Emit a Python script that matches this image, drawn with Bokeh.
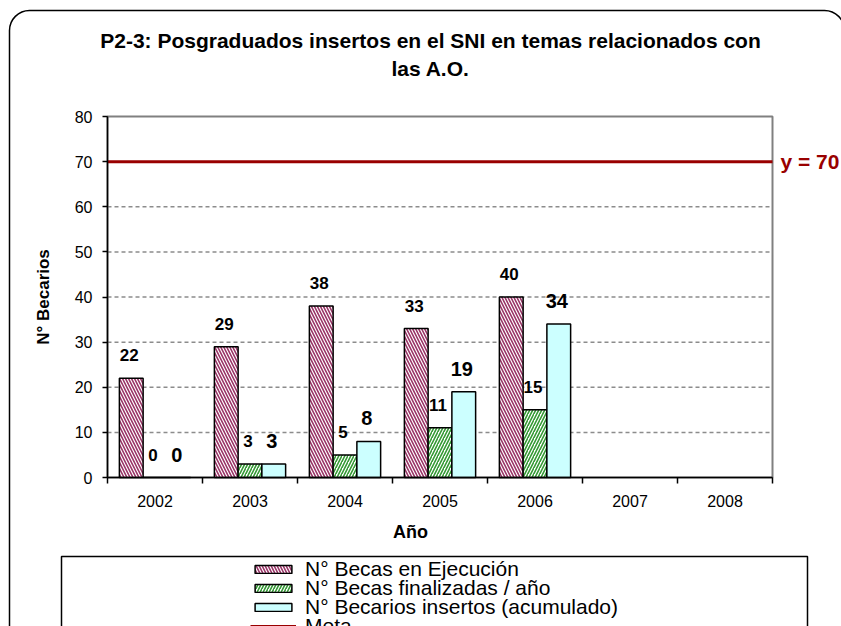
from bokeh.plotting import figure
from bokeh.models import (Range1d, FixedTicker, BoxAnnotation, Legend, LegendItem,
                          ColumnDataSource, Label)
from bokeh.core.properties import value
from bokeh.embed import file_html
from bokeh.resources import INLINE

# ---------------- data ----------------
years = ["2002", "2003", "2004", "2005", "2006", "2007", "2008"]
becas_ejecucion = [22, 29, 38, 33, 40, None, None]
becas_finalizadas = [0, 3, 5, 11, 15, None, None]
becarios_insertos = [0, 3, 8, 19, 34, None, None]
meta = 70
y_ticks = [0, 10, 20, 30, 40, 50, 60, 70, 80]
grid_ticks = [10, 20, 30, 40, 50, 60]
series_names = ["N° Becas en Ejecución", "N° Becas finalizadas / año",
                "N° Becarios insertos (acumulado)", "Meta"]
title_lines = ["P2-3: Posgraduados insertos en el SNI en temas relacionados con",
               "las A.O."]
x_title = "Año"
y_title = "N° Becarios"
meta_label = "y = 70"

# ---------------- layout (pixels) ----------------
FONT = "Liberation Sans"
W, H = 841, 626
n = len(years)
y_max = y_ticks[-1]
X0, X1 = 107, 772          # plot-area left / right
Y0, Y1 = 477, 116          # plot-area bottom / top
SX = (X1 - X0) / n
SY = (Y0 - Y1) / y_max
def xd(px): return (px - X0) / SX
def yd(py): return (Y0 - py) / SY

PINK, GREEN, CYAN, RED = "#993366", "#339933", "#CCFFFF", "#990000"
bar_styles = [
    dict(fill_color="white", hatch_pattern="\\", hatch_color=PINK, hatch_scale=6, hatch_weight=1.6),
    dict(fill_color="white", hatch_pattern="/", hatch_color=GREEN, hatch_scale=6, hatch_weight=1.6),
    dict(fill_color=CYAN),
]

p = figure(width=W, height=H, output_backend="svg", toolbar_location=None,
           x_range=Range1d(xd(0), xd(W)), y_range=Range1d(yd(H), yd(0)),
           min_border=0)
p.background_fill_color = "white"
p.border_fill_color = "white"
p.outline_line_color = None
p.xgrid.visible = False
p.ygrid.visible = False

# plot-area border and dashed grid
p.add_layout(BoxAnnotation(left=0, right=n, bottom=0, top=y_max, fill_alpha=0,
                           line_color="#808080", line_alpha=1, line_width=2,
                           level="underlay"))
grid_src = ColumnDataSource(dict(y=grid_ticks))
p.segment(x0=0, x1=n, y0="y", y1="y", source=grid_src, line_color="#8c8c8c",
          line_dash="4 3", line_width=1.5, level="underlay")

# x axis: labels at category centres, ticks between categories
xa = p.xaxis[0]
xa.fixed_location = 0
xa.bounds = (0, n)
xa.ticker = FixedTicker(ticks=[i + 0.5 for i in range(n)], minor_ticks=list(range(n + 1)))
xa.major_label_overrides = {i + 0.5: y for i, y in enumerate(years)}
xa.major_tick_line_color = None
xa.major_tick_out = 6
xa.minor_tick_in = 0
xa.minor_tick_out = 6
xa.minor_tick_line_color = "black"
xa.minor_tick_line_width = 1.5
xa.axis_line_color = "black"
xa.axis_line_width = 1.5
xa.major_label_standoff = 11
xa.major_label_text_font = FONT
xa.major_label_text_font_size = "16px"
xa.major_label_text_color = "black"

ya = p.yaxis[0]
ya.fixed_location = 0
ya.bounds = (0, y_max)
ya.ticker = FixedTicker(ticks=y_ticks, minor_ticks=[])
ya.major_tick_in = 0
ya.major_tick_out = 5
ya.major_tick_line_color = "black"
ya.major_tick_line_width = 1.5
ya.axis_line_color = "black"
ya.axis_line_width = 1.5
ya.major_label_standoff = 10
ya.major_label_text_font = FONT
ya.major_label_text_font_size = "16px"
ya.major_label_text_color = "black"
ya.axis_label = y_title
ya.axis_label_text_font = FONT
ya.axis_label_text_font_style = "bold"
ya.axis_label_text_font_size = "17px"
ya.axis_label_text_color = "black"
ya.axis_label_standoff = 19

# bars + value labels
label_sizes = ["17px", "17px", "20px"]
bar_renderers = []
for k, (vals, off) in enumerate([(becas_ejecucion, -0.25), (becas_finalizadas, 0.0),
                                 (becarios_insertos, 0.25)]):
    idx = [i for i, v in enumerate(vals) if v is not None]
    src = ColumnDataSource(dict(x=[i + 0.5 + off for i in idx],
                                top=[vals[i] for i in idx],
                                label=[str(vals[i]) for i in idx]))
    r = p.vbar(x="x", top="top", width=0.25, source=src, line_color="black",
               line_width=1.5, **bar_styles[k])
    bar_renderers.append(r)
    p.text(x="x", y="top", text="label", source=src, text_align="center",
           text_baseline="alphabetic", x_offset=-2, y_offset=-23,
           text_font=value(FONT), text_font_style="bold",
           text_font_size=label_sizes[k], text_color="black")

meta_src = ColumnDataSource(dict(y=[meta]))
meta_r = p.segment(x0=0, x1=n, y0="y", y1="y", source=meta_src,
                   line_color=RED, line_width=3)

# texts
def lab(x, y, text, size, color="black", align="center", **kw):
    p.add_layout(Label(x=x, y=y, text=text, text_align=align, text_baseline="middle",
                       text_font=FONT, text_font_style="bold", text_font_size=size,
                       text_color=color, **kw))
lab(xd(430), yd(40), title_lines[0], "21px")
lab(xd(430), yd(68), title_lines[1], "21px")
lab(xd(410), yd(531), x_title, "18px")
lab(n, meta, meta_label, "21px", color=RED, align="left", x_offset=8)

# chart border and legend box
p.add_layout(BoxAnnotation(left=xd(9), right=xd(W + 3), top=yd(10), bottom=yd(H + 60),
                           fill_alpha=0, line_color="black", line_alpha=1,
                           line_width=1.5, border_radius=20))
p.add_layout(BoxAnnotation(left=xd(61), right=xd(807), top=yd(556), bottom=yd(H + 60),
                           fill_alpha=0, line_color="black", line_alpha=1,
                           line_width=1.5))

# legend: two interleaved columns of rows give the tight row pitch
renders = bar_renderers + [meta_r]
common = dict(orientation="vertical", border_line_color=None, background_fill_alpha=0,
              padding=0, margin=0, spacing=14, glyph_width=46, glyph_height=10,
              label_height=10, label_standoff=9, label_text_font=FONT,
              label_text_font_size="21px", label_text_color="black")
legA = Legend(items=[LegendItem(label=series_names[k], renderers=[renders[k]]) for k in (0, 2)],
              location=(250, H - (556.5 + 62)), **common)
legB = Legend(items=[LegendItem(label=series_names[k], renderers=[renders[k]]) for k in (1, 3)],
              location=(250, H - (575.5 + 62)), **common)
p.add_layout(legA, "center")
p.add_layout(legB, "center")

open("out.html", "w").write(file_html(p, INLINE))
